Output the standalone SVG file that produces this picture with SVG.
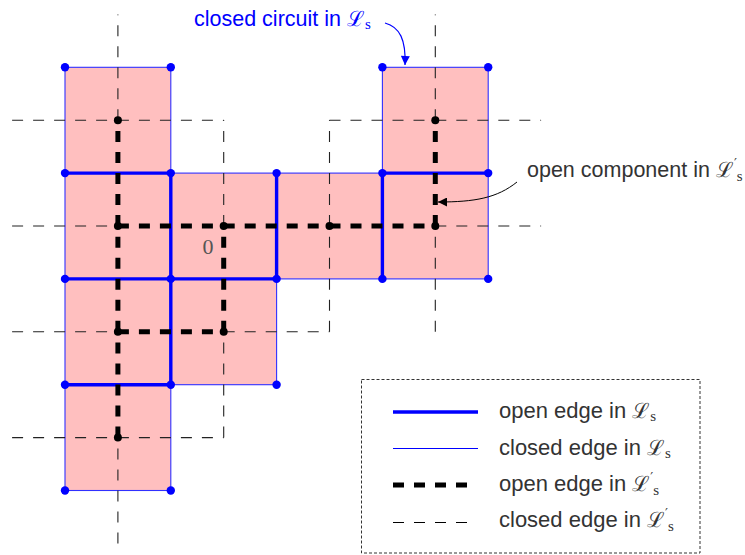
<svg xmlns="http://www.w3.org/2000/svg" width="745" height="555" viewBox="0 0 745 555">
<style>
.cell{fill:#ffbfbf;stroke:#3030ff;stroke-width:1.1}
.dthin{fill:none;stroke:#222;stroke-width:1.1;stroke-dasharray:11 10}
.dthick{fill:none;stroke:#000;stroke-width:5;stroke-dasharray:11 10}
.pthick{fill:none;stroke:#0000ff;stroke-width:3.4;stroke-linecap:round}
.pv{fill:#0000ff}
.dv{fill:#000}
.lbl{font-family:"Liberation Sans",Arial,sans-serif;font-size:21.5px;fill:#333}
.leg{font-size:22px}
.cal{font-family:"DejaVu Serif","Liberation Serif",serif;font-size:21px}
.sub{font-family:"Liberation Serif",serif;font-size:15px}
.pr{font-family:"DejaVu Sans",sans-serif;font-size:13px}
</style>
<defs>
<marker id="ahb" viewBox="0 0 10 10" refX="10" refY="5" markerUnits="userSpaceOnUse" markerWidth="11" markerHeight="9" orient="auto"><path d="M0,0 L10,5 L0,10 z" fill="#0000ff"/></marker>
<marker id="ahk" viewBox="0 0 10 10" refX="10" refY="5" markerUnits="userSpaceOnUse" markerWidth="10" markerHeight="9" orient="auto"><path d="M0,0 L10,5 L0,10 z" fill="#000"/></marker>
</defs>

<g id="cells">
<rect class="cell" x="65" y="67.3" width="105.8" height="105.8"/>
<rect class="cell" x="65" y="173.1" width="105.8" height="105.8"/>
<rect class="cell" x="65" y="278.9" width="105.8" height="105.8"/>
<rect class="cell" x="65" y="384.7" width="105.8" height="105.8"/>
<rect class="cell" x="170.8" y="173.1" width="105.8" height="105.8"/>
<rect class="cell" x="170.8" y="278.9" width="105.8" height="105.8"/>
<rect class="cell" x="276.6" y="173.1" width="105.8" height="105.8"/>
<rect class="cell" x="382.4" y="67.3" width="105.8" height="105.8"/>
<rect class="cell" x="382.4" y="173.1" width="105.8" height="105.8"/>
</g>

<g id="connectors">
<path id="dual-closed" class="dthin" d="M12.1,120.2H117.9 M117.9,120.2H223.7 M329.5,120.2H435.3 M435.3,120.2H541.1 M12.1,226H117.9 M435.3,226H541.1 M12.1,331.8H117.9 M223.7,331.8H329.5 M12.1,437.6H117.9 M117.9,437.6H223.7 M117.9,120.2V14.4 M117.9,543.4V437.6 M223.7,226V120.2 M223.7,437.6V331.8 M329.5,226V120.2 M329.5,331.8V226 M435.3,120.2V14.4 M435.3,331.8V226"/>
<path id="primal-open" class="pthick" d="M65,173.1H170.8 M382.4,173.1H488.2 M170.8,173.1V384.7 M65,278.9H276.6 M65,384.7H170.8 M276.6,173.1V278.9 M382.4,173.1V278.9"/>
<path id="dual-open" class="dthick" d="M117.9,226V120.2 M117.9,331.8V226 M117.9,437.6V331.8 M117.9,226H223.7 M223.7,226H329.5 M329.5,226H435.3 M223.7,331.8V226 M117.9,331.8H223.7 M435.3,226V120.2"/>
<path id="arrow-circuit" d="M385,23 C400,27 406,40 405,65" fill="none" stroke="#0000ff" stroke-width="1.2" marker-end="url(#ahb)"/>
<path id="arrow-component" d="M517,182 C497,198 475,202 438,202" fill="none" stroke="#000" stroke-width="1" marker-end="url(#ahk)"/>
</g>

<g id="primal-vertices">
<circle class="pv" cx="65" cy="67.3" r="4.2"/><circle class="pv" cx="170.8" cy="67.3" r="4.2"/><circle class="pv" cx="382.4" cy="67.3" r="4.2"/><circle class="pv" cx="488.2" cy="67.3" r="4.2"/>
<circle class="pv" cx="65" cy="173.1" r="4.2"/><circle class="pv" cx="170.8" cy="173.1" r="4.2"/><circle class="pv" cx="276.6" cy="173.1" r="4.2"/><circle class="pv" cx="382.4" cy="173.1" r="4.2"/><circle class="pv" cx="488.2" cy="173.1" r="4.2"/>
<circle class="pv" cx="65" cy="278.9" r="4.2"/><circle class="pv" cx="170.8" cy="278.9" r="4.2"/><circle class="pv" cx="276.6" cy="278.9" r="4.2"/><circle class="pv" cx="382.4" cy="278.9" r="4.2"/><circle class="pv" cx="488.2" cy="278.9" r="4.2"/>
<circle class="pv" cx="65" cy="384.7" r="4.2"/><circle class="pv" cx="170.8" cy="384.7" r="4.2"/><circle class="pv" cx="276.6" cy="384.7" r="4.2"/>
<circle class="pv" cx="65" cy="490.5" r="4.2"/><circle class="pv" cx="170.8" cy="490.5" r="4.2"/>
</g>

<g id="dual-vertices">
<circle class="dv" cx="117.9" cy="120.2" r="4"/><circle class="dv" cx="117.9" cy="226" r="4"/><circle class="dv" cx="117.9" cy="331.8" r="4"/><circle class="dv" cx="117.9" cy="437.6" r="4"/>
<circle class="dv" cx="223.7" cy="226" r="4"/><circle class="dv" cx="223.7" cy="331.8" r="4"/><circle class="dv" cx="329.5" cy="226" r="4"/>
<circle class="dv" cx="435.3" cy="120.2" r="4"/><circle class="dv" cx="435.3" cy="226" r="4"/>
</g>

<g id="origin-label">
<text x="208" y="253.5" text-anchor="middle" font-family="Liberation Serif,serif" font-size="22" fill="#555">0</text>
</g>

<g id="label-circuit">
<text class="lbl" x="194" y="26" style="fill:#0000ff">closed circuit in <tspan class="cal">ℒ</tspan><tspan class="sub" dy="3">s</tspan></text>
</g>

<g id="label-component">
<text class="lbl" x="527" y="177">open component in <tspan class="cal">ℒ</tspan><tspan class="pr" dy="-10">′</tspan><tspan class="sub" dy="14">s</tspan></text>
</g>

<g id="legend">
<rect x="361.5" y="379.5" width="338.5" height="173.5" fill="none" stroke="#333" stroke-width="1" stroke-dasharray="3 2"/>
<line x1="393" y1="412" x2="478" y2="412" stroke="#0000ff" stroke-width="3.4"/>
<line x1="393" y1="448.5" x2="478" y2="448.5" stroke="#0000ff" stroke-width="1.1"/>
<line class="dthick" x1="393" y1="485" x2="467" y2="485"/>
<line class="dthin" x1="393" y1="522.5" x2="467" y2="522.5" style="stroke:#000"/>
<text class="lbl leg" x="499" y="418">open edge in <tspan class="cal">ℒ</tspan><tspan class="sub" dy="3">s</tspan></text>
<text class="lbl leg" x="499" y="454.5">closed edge in <tspan class="cal">ℒ</tspan><tspan class="sub" dy="3">s</tspan></text>
<text class="lbl leg" x="499" y="490.5">open edge in <tspan class="cal">ℒ</tspan><tspan class="pr" dy="-10">′</tspan><tspan class="sub" dy="14">s</tspan></text>
<text class="lbl leg" x="499" y="527">closed edge in <tspan class="cal">ℒ</tspan><tspan class="pr" dy="-10">′</tspan><tspan class="sub" dy="14">s</tspan></text>
</g>
</svg>
